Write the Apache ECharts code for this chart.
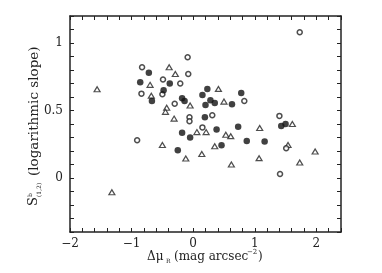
<!DOCTYPE html>
<html>
<head>
<meta charset="utf-8">
<script src="https://cdn.jsdelivr.net/npm/echarts@6/dist/echarts.min.js"></script>
<style>
html, body { margin: 0; padding: 0; background: #fff; }
#chart { width: 382px; height: 273px; }
</style>
</head>
<body>
<div id="chart"></div>
<script>
// points: [delta mu_R, slope]
var filledPts = [
	[-0.72, 0.78], [-0.86, 0.71], [-0.38, 0.70], [-0.48, 0.65], [-0.67, 0.57],
	[-0.18, 0.59], [-0.14, 0.57], [0.23, 0.66], [0.78, 0.63], [0.15, 0.615],
	[0.28, 0.576], [0.35, 0.556], [0.63, 0.546], [0.20, 0.54], [0.19, 0.45],
	[0.38, 0.36], [0.73, 0.38], [1.43, 0.385], [1.50, 0.40], [-0.18, 0.336],
	[-0.05, 0.30], [0.87, 0.275], [1.16, 0.27], [-0.25, 0.206], [0.46, 0.243]
];
var openPts = [
	[-0.83, 0.82], [-0.09, 0.895], [-0.08, 0.77], [-0.49, 0.73], [-0.21, 0.70],
	[-0.84, 0.625], [-0.50, 0.62], [0.83, 0.57], [-0.30, 0.55], [-0.06, 0.45],
	[-0.06, 0.42], [0.31, 0.465], [0.15, 0.375], [1.73, 1.08], [1.40, 0.46],
	[-0.91, 0.28], [1.51, 0.22], [1.41, 0.03]
];
var trianglePts = [
	[-1.56, 0.657], [-0.39, 0.82], [-0.29, 0.77], [-0.70, 0.69], [-0.68, 0.61],
	[0.41, 0.66], [0.50, 0.566], [-0.05, 0.537], [-0.43, 0.52], [-0.45, 0.49],
	[-0.31, 0.44], [1.61, 0.40], [0.06, 0.34], [0.21, 0.34], [0.53, 0.32],
	[0.61, 0.31], [1.08, 0.37], [-0.50, 0.245], [-0.12, 0.145], [0.14, 0.178],
	[0.35, 0.235], [0.62, 0.10], [1.07, 0.147], [1.54, 0.245], [1.98, 0.196],
	[1.73, 0.115], [-1.32, -0.105]
];
var xLabels = [-2, -1, 0, 1, 2];
var yLabels = [0, 0.5, 1];

var serif = 'DejaVu Serif';
var ink = '#222';

function near(v, list) {
	for (var i = 0; i < list.length; i++) {
		if (Math.abs(v - list[i]) < 1e-6) return list[i];
	}
	return null;
}
function fmt(list) {
	return function (v) {
		var n = near(v, list);
		if (n === null) return '';
		return n < 0 ? '\u2212' + (-n) : '' + n;
	};
}

function axisBase(extra) {
	var a = {
		type: 'value',
		axisLine: { show: true, onZero: false, lineStyle: { color: ink, width: 1.5 } },
		axisTick: { show: true, inside: true, length: 4, lineStyle: { color: ink, width: 1 } },
		splitLine: { show: false },
		axisLabel: { show: false }
	};
	for (var k in extra) a[k] = extra[k];
	return a;
}

var option = {
	animation: false,
	backgroundColor: '#fff',
	grid: { left: 70, top: 16, right: 41, bottom: 41 },
	xAxis: [
		axisBase({ min: -2, max: 2.4, interval: 0.2, position: 'bottom',
			axisLabel: { show: true, margin: 6, fontFamily: serif, fontSize: 12, color: ink, formatter: fmt(xLabels) } }),
		axisBase({ min: -2, max: 2.4, interval: 0.2, position: 'top' })
	],
	yAxis: [
		axisBase({ min: -0.4, max: 1.2, interval: 0.1, position: 'left',
			axisLabel: { show: true, margin: 7, fontFamily: serif, fontSize: 12, color: ink, formatter: fmt(yLabels) } }),
		axisBase({ min: -0.4, max: 1.2, interval: 0.1, position: 'right' })
	],
	series: [
		{
			type: 'scatter', data: trianglePts, symbol: 'triangle', symbolSize: [6, 5],
			itemStyle: { color: '#fff', borderColor: ink, borderWidth: 1.2 }
		},
		{
			type: 'scatter', data: openPts, symbol: 'circle', symbolSize: 5,
			itemStyle: { color: '#fff', borderColor: ink, borderWidth: 1.5 }
		},
		{
			type: 'scatter', data: filledPts, symbol: 'circle', symbolSize: 6.5,
			itemStyle: { color: '#111' }
		}
	],
	graphic: [
		{
			type: 'group', x: 147, y: 257,
			children: [
				{ type: 'text', x: 0, y: 0, style: { text: '\u0394\u03bc', font: '12px "DejaVu Serif"', fill: ink, verticalAlign: 'middle' } },
				{ type: 'text', x: 19, y: 4, style: { text: 'R', font: '6px "DejaVu Serif"', fill: ink, verticalAlign: 'middle' } },
				{ type: 'text', x: 27, y: 0, style: { text: '(mag arcsec', font: '12px "DejaVu Serif"', fill: ink, verticalAlign: 'middle' } },
				{ type: 'text', x: 100, y: -5, style: { text: '\u22122', font: '7px "DejaVu Serif"', fill: ink, verticalAlign: 'middle' } },
				{ type: 'text', x: 111, y: 0, style: { text: ')', font: '12px "DejaVu Serif"', fill: ink, verticalAlign: 'middle' } }
			]
		},
		{
			type: 'group', x: 34, y: 124, rotation: Math.PI / 2,
			children: [
				{ type: 'text', x: -82, y: 0, style: { text: 'S', font: '13px "DejaVu Serif"', fill: ink, verticalAlign: 'middle' } },
				{ type: 'text', x: -73, y: -4, style: { text: 'b', font: '6px "DejaVu Serif"', fill: ink, verticalAlign: 'middle' } },
				{ type: 'text', x: -73, y: 5, style: { text: '(1,2)', font: '6px "DejaVu Serif"', fill: ink, verticalAlign: 'middle' } },
				{ type: 'text', x: -52, y: 0, style: { text: '(logarithmic slope)', font: '13.5px "DejaVu Serif"', fill: ink, verticalAlign: 'middle' } }
			]
		}
	]
};

var chart = echarts.init(document.getElementById('chart'));
chart.setOption(option);
</script>
</body>
</html>
